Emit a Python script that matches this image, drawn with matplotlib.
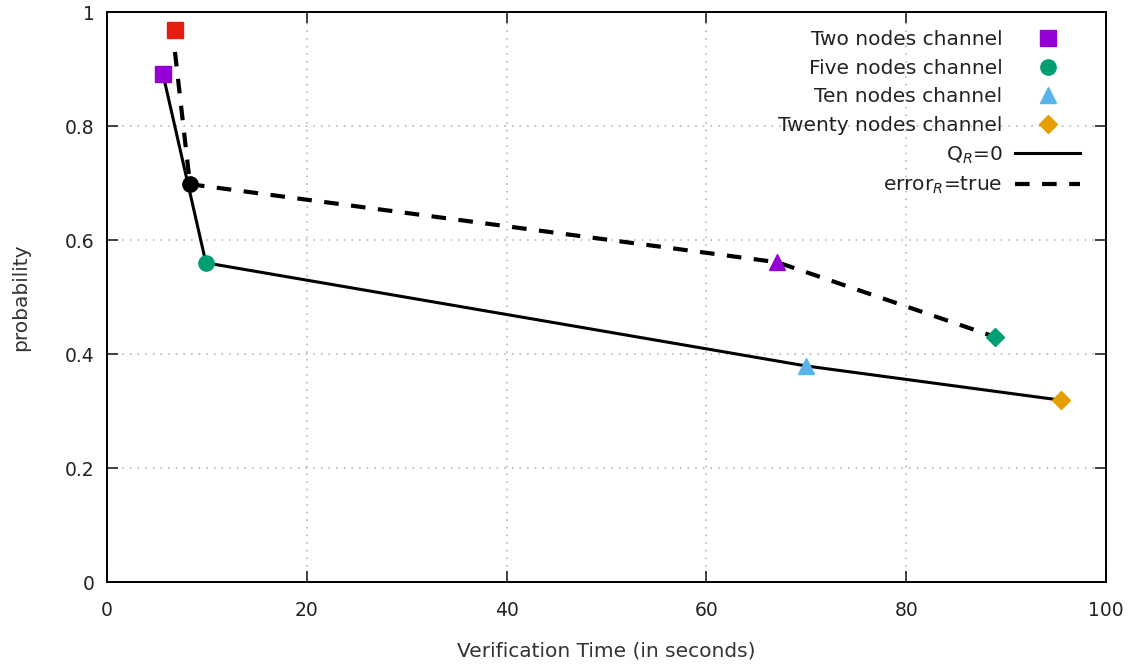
import matplotlib
matplotlib.use("Agg")
import matplotlib.pyplot as plt
from matplotlib.lines import Line2D

plt.rcParams['font.family'] = ['DejaVu Sans']

# data
solid_x = [5.6, 9.9, 70.0, 95.5]
solid_y = [0.891, 0.560, 0.379, 0.319]
dashed_x = [6.8, 8.3, 67.1, 88.9]
dashed_y = [0.968, 0.698, 0.561, 0.430]

# individual markers
pts_x = [5.6, 6.8, 8.3, 9.9, 67.1, 70.0, 88.9, 95.5]
pts_y = [0.891, 0.968, 0.698, 0.560, 0.561, 0.379, 0.430, 0.319]
pts_m = ['s', 's', 'o', 'o', '^', '^', 'D', 'D']
pts_c = ['#9400d3', '#e51e10', '#000000', '#009e73', '#9400d3', '#56b4e9', '#009e73', '#e69f00']

legend_labels = ["Two nodes channel", "Five nodes channel", "Ten nodes channel",
                 "Twenty nodes channel", "Q$_R$=0", "error$_R$=true"]
xticks = [0, 20, 40, 60, 80, 100]
yticks = [0, 0.2, 0.4, 0.6, 0.8, 1]
ytick_labels = ['0', '0.2', '0.4', '0.6', '0.8', '1']

fig = plt.figure(figsize=(11.41, 6.72), dpi=100)
ax = fig.add_axes([0.0938, 0.1339, 0.8755, 0.8482])

ax.plot(solid_x, solid_y, color='black', lw=2.2, zorder=2)
ax.plot(dashed_x[1:], dashed_y[1:], color='black', lw=3.0, ls=(0, (3.5, 3)), zorder=2)
ax.plot([dashed_x[0], dashed_x[1]], [0.93, dashed_y[1]], color='black', lw=3.0, ls=(0, (3.5, 3)), zorder=2)

sizes = {'s': 12, 'o': 11, '^': 11, 'D': 9}
for x, y, m, c in zip(pts_x, pts_y, pts_m, pts_c):
    ax.plot([x], [y], marker=m, color=c, ms=sizes[m], ls='none', zorder=3)

ax.set_xlim(0, 100)
ax.set_ylim(0, 1)
ax.set_xticks(xticks)
ax.set_yticks(yticks)
ax.set_xticklabels([str(t) for t in xticks])
ax.set_yticklabels(ytick_labels)
ax.tick_params(direction='in', length=8, width=1.2, top=True, right=True,
               labelsize=13.5, colors='#222222')
ax.tick_params(axis='x', pad=14)
ax.tick_params(axis='y', pad=9)
for s in ax.spines.values():
    s.set_linewidth(1.4)
ax.grid(True, ls=(0, (1, 4)), color='#aaaaaa', lw=1.1)
ax.set_axisbelow(True)

ax.set_xlabel('Verification Time (in seconds)', fontsize=14.5, color='#333333', labelpad=15)
ax.set_ylabel('probability', fontsize=14.5, color='#333333', labelpad=25)

handles = [
    Line2D([], [], marker='s', color='#9400d3', ls='none', ms=12),
    Line2D([], [], marker='o', color='#009e73', ls='none', ms=11),
    Line2D([], [], marker='^', color='#56b4e9', ls='none', ms=11),
    Line2D([], [], marker='D', color='#e69f00', ls='none', ms=9),
    Line2D([], [], color='black', lw=2.2),
    Line2D([], [], color='black', lw=3.0, ls=(0, (3.5, 3))),
]
leg = ax.legend(handles, legend_labels, loc='upper right', bbox_to_anchor=(0.982, 0.982),
                frameon=False, markerfirst=False, fontsize=14.5, handlelength=3.2,
                handletextpad=0.65, labelspacing=0.47, borderaxespad=0, borderpad=0.4)
for t in leg.get_texts():
    t.set_color('#222222')

fig.savefig('out.png', dpi=100)
